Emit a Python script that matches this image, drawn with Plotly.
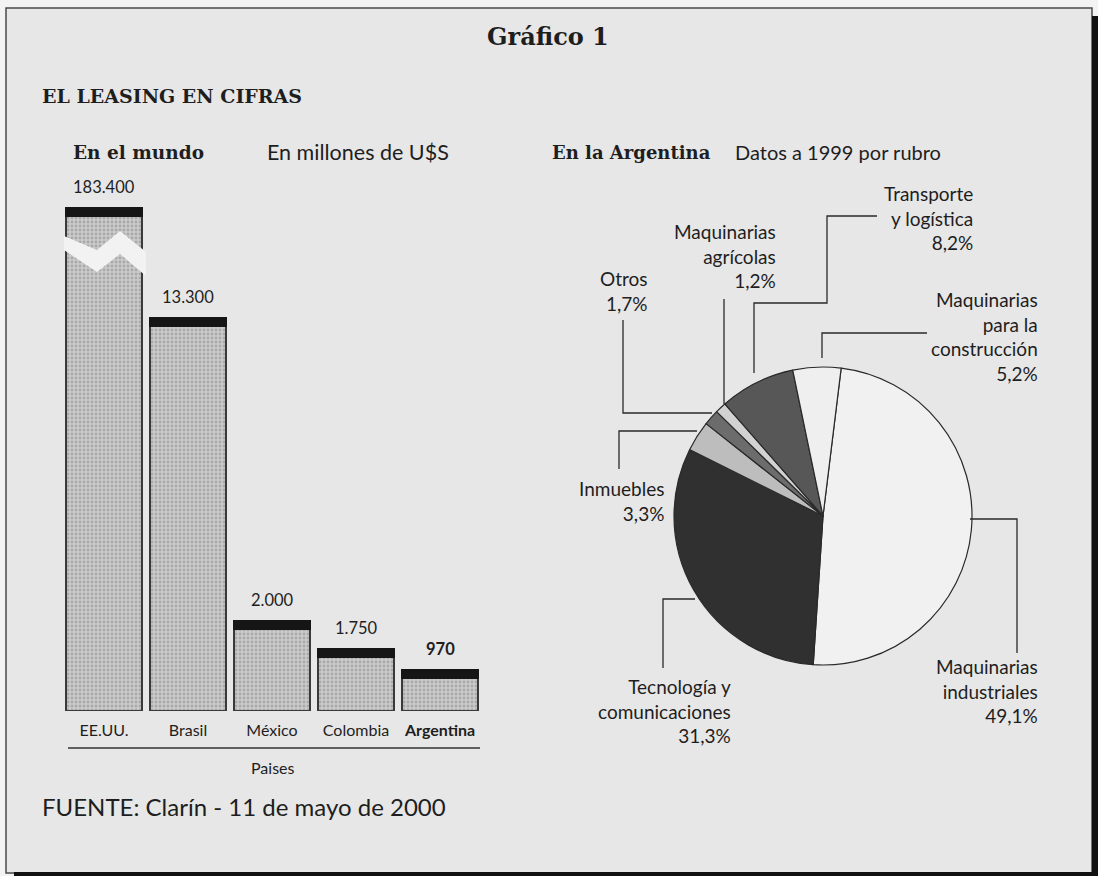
import plotly.graph_objects as go

W, H = 1098, 876

# ---------------- data ----------------
paises = ["EE.UU.", "Brasil", "México", "Colombia", "Argentina"]
leasing_millones = [183400, 13300, 2000, 1750, 970]
# bar lengths as drawn in the original graphic (it is not to scale), picture units
altura_dibujada = [503, 393, 90, 62, 41]

rubros = ["Maquinarias<br>industriales", "Tecnología y<br>comunicaciones", "Inmuebles",
          "Otros", "Maquinarias<br>agrícolas", "Transporte<br>y logística",
          "Maquinarias<br>para la<br>construcción"]
porcentajes = [49.1, 31.3, 3.3, 1.7, 1.2, 8.2, 5.2]
colores_rubro = ["#f1f1f1", "#303030", "#bdbdbd", "#6c6c6c", "#d2d2d2", "#575757", "#efefef"]

# ---------------- helpers ----------------
def X(px):
    return px / W

def Y(py):
    return 1 - py / H

def path(pts):
    return "M " + " L ".join(f"{X(a):.5f} {Y(b):.5f}" for a, b in pts)

SERIF = "DejaVu Serif"
SANS = "Lato"
INK = "#1e1e1e"

fmt_miles = lambda v: f"{v:,}".replace(",", ".")
fmt_pct = lambda p: f"{p:.1f}".replace(".", ",") + "%"

CAP = 8  # black cap thickness
fig = go.Figure()

fig.add_trace(go.Bar(
    x=list(range(len(paises))), y=[h - CAP for h in altura_dibujada],
    marker=dict(color="#c6c6c6", line=dict(color="#3a3a3a", width=1.5),
                pattern=dict(shape=".", fgcolor="#858585", bgcolor="#cbcbcb", size=4, solidity=0.4)),
    hoverinfo="skip", showlegend=False))
fig.add_trace(go.Bar(
    x=list(range(len(paises))), y=[CAP] * len(paises),
    marker=dict(color="#151515", line=dict(color="#151515", width=1.5)),
    hoverinfo="skip", showlegend=False))

fig.add_trace(go.Pie(
    values=porcentajes, labels=rubros, sort=False, direction="clockwise", rotation=7,
    textinfo="none", hoverinfo="label+percent", showlegend=False,
    marker=dict(colors=colores_rubro, line=dict(color="#2a2a2a", width=1.2)),
    domain=dict(x=[X(674), X(972)], y=[Y(665), Y(367)])))

# ---------------- annotations ----------------
ann = []

def txt(x, y, text, size, font=SANS, xanchor="center", align="center", color=INK):
    ann.append(dict(x=X(x), y=Y(y), xref="paper", yref="paper", text=text, showarrow=False,
                    xanchor=xanchor, yanchor="middle", align=align,
                    font=dict(family=font, size=size, color=color)))

txt(548, 37, "<b>Gráfico 1</b>", 24, SERIF)
txt(40, 96, "<b>EL LEASING EN CIFRAS</b>", 19, SERIF, xanchor="left")
txt(71, 152, "<b>En el mundo</b>", 18.5, SERIF, xanchor="left")
txt(265, 152, "En millones de U$S", 21.5, xanchor="left")
txt(550, 152, "<b>En la Argentina</b>", 18, SERIF, xanchor="left")
txt(733, 152, "Datos a 1999 por rubro", 20, xanchor="left")
txt(273, 767, "Paises", 16)
txt(40, 806, "FUENTE: Clarín - 11 de mayo de 2000", 24, xanchor="left")

# value labels above bars
for i, (v, h) in enumerate(zip(leasing_millones, altura_dibujada)):
    t = fmt_miles(v)
    if paises[i] == "Argentina":
        t = f"<b>{t}</b>"
    ann.append(dict(x=i, y=h, xref="x", yref="y", text=t, showarrow=False, yanchor="bottom",
                    yshift=9, font=dict(family=SANS, size=16.5, color=INK)))

# pie labels (text built from data)
pos = {  # right edge x, first line center y
    0: (1040, 665), 1: (733, 685), 2: (666, 487), 3: (650, 277),
    4: (778, 230), 5: (975, 192), 6: (1040, 298),
}
for i, (r, p) in enumerate(zip(rubros, porcentajes)):
    x, y = pos[i]
    ann.append(dict(x=X(x), y=Y(y - 12), xref="paper", yref="paper", text=f"{r}<br>{fmt_pct(p)}",
                    showarrow=False, xanchor="right", yanchor="top", align="right",
                    font=dict(family=SANS, size=19, color=INK)))

# ---------------- shapes ----------------
shapes = [
    dict(type="rect", xref="paper", yref="paper", x0=X(6), x1=X(1092), y0=Y(873), y1=Y(8),
         fillcolor="#e7e7e7", line=dict(color="#4a4a4a", width=1.5), layer="below"),
    dict(type="rect", xref="paper", yref="paper", x0=X(1092), x1=X(1098), y0=Y(876), y1=Y(16),
         fillcolor="#111111", line=dict(width=0), layer="below"),
    dict(type="rect", xref="paper", yref="paper", x0=X(14), x1=X(1098), y0=Y(876), y1=Y(872),
         fillcolor="#111111", line=dict(width=0), layer="below"),
    # axis line under country names
    dict(type="line", xref="paper", yref="paper", x0=X(68), x1=X(480), y0=Y(748), y1=Y(748),
         line=dict(color="#333", width=1.5)),
    # axis break on the first bar
    dict(type="path", xref="paper", yref="paper",
         path=path([(64, 236), (97, 250), (120, 231), (146, 252),
                    (146, 276), (120, 254), (97, 272), (64, 250)]) + " Z",
         fillcolor="#f2f2f2", line=dict(width=0)),
]

leaders = [
    [(970, 519), (1017, 519), (1017, 653)],                 # industriales
    [(695, 599), (663, 599), (663, 668)],                   # tecnología
    [(697, 431), (619, 431), (619, 469)],                   # inmuebles
    [(712, 413), (623, 413), (623, 320)],                   # otros
    [(724, 404), (724, 299)],                               # agrícolas
    [(754, 373), (754, 303), (827, 303), (827, 216), (877, 216)],  # transporte
    [(822, 358), (822, 333), (927, 333)],                   # construcción
]
for pts in leaders:
    shapes.append(dict(type="path", xref="paper", yref="paper", path=path(pts),
                       line=dict(color="#2a2a2a", width=1.3)))

fig.update_layout(
    width=W, height=H, margin=dict(l=0, r=0, t=0, b=0),
    paper_bgcolor="#f3f3f3", plot_bgcolor="rgba(0,0,0,0)",
    barmode="stack", bargap=8 / 84,
    xaxis=dict(domain=[X(62), X(482)], range=[-0.5, 4.5],
               tickvals=list(range(len(paises))),
               ticktext=[f"<b>{p}</b>" if p == "Argentina" else p for p in paises],
               tickfont=dict(family=SANS, size=16, color=INK),
               showgrid=False, zeroline=False, showline=False, ticks="", ticklabelstandoff=8),
    yaxis=dict(domain=[Y(711), Y(200)], range=[0, 511], visible=False, showgrid=False),
    annotations=ann, shapes=shapes,
)

fig.write_html("out.html", config={"displayModeBar": False},
               post_script="document.body.style.margin='0';document.body.style.overflow='hidden';")
